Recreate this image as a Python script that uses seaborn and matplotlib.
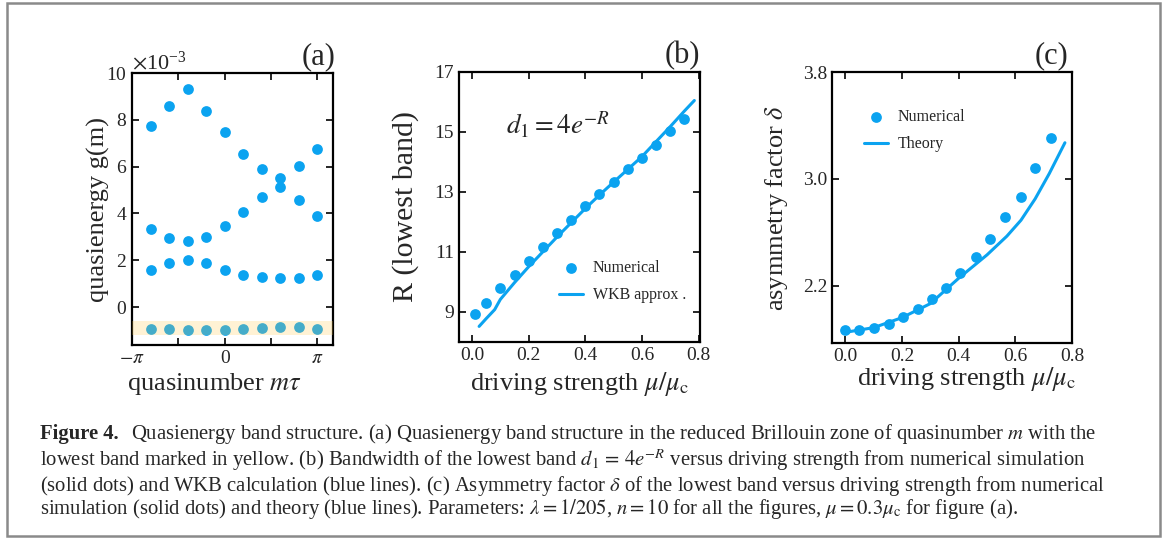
import numpy as np
import pandas as pd
import seaborn as sns
import matplotlib.pyplot as plt
from matplotlib.patches import Rectangle

# (a) quasienergy bands, in units of 1e-3, vs quasinumber m*tau (in units of pi)
m_pos = [-0.8, -0.6, -0.4, -0.2, 0.0, 0.2, 0.4, 0.6, 0.8, 1.0]
band4 = [7.72, 8.6, 9.3, 8.38, 7.48, 6.55, 5.9, 5.5, 6.03, 6.75]
band3 = [3.33, 2.97, 2.83, 3.01, 3.47, 4.07, 4.72, 5.14, 4.58, 3.9]
band2 = [1.58, 1.9, 2.03, 1.9, 1.58, 1.35, 1.27, 1.26, 1.26, 1.35]
band1 = [-0.94, -0.94, -0.98, -0.99, -0.98, -0.94, -0.89, -0.86, -0.86, -0.94]

# (b) R of the lowest band
mu_b = [0.01, 0.05, 0.10, 0.15, 0.20, 0.25, 0.30, 0.35, 0.40, 0.45, 0.50, 0.55, 0.60, 0.65, 0.70, 0.75]
R_num = [8.95, 9.30, 9.79, 10.23, 10.71, 11.16, 11.63, 12.06, 12.53, 12.92, 13.33, 13.76, 14.15, 14.58, 15.03, 15.43]
mu_wkb = [0.025, 0.05, 0.08, 0.10, 0.15, 0.20, 0.30, 0.40, 0.45, 0.50, 0.60, 0.70, 0.75, 0.785]
R_wkb = [8.52, 8.78, 9.08, 9.42, 9.98, 10.51, 11.5, 12.45, 12.9, 13.33, 14.18, 15.18, 15.7, 16.05]

# (c) asymmetry factor
mu_c = [0.0, 0.05, 0.10, 0.155, 0.205, 0.255, 0.305, 0.355, 0.405, 0.46, 0.51, 0.565, 0.62, 0.67, 0.725]
delta_num = [1.865, 1.865, 1.885, 1.913, 1.968, 2.026, 2.096, 2.181, 2.292, 2.415, 2.548, 2.711, 2.863, 3.079, 3.308]
mu_th = [0.0, 0.1, 0.2, 0.3, 0.4, 0.5, 0.57, 0.62, 0.67, 0.72, 0.775]
delta_th = [1.85, 1.885, 1.96, 2.065, 2.255, 2.43, 2.57, 2.69, 2.85, 3.04, 3.27]

sns.set_style("ticks")
plt.rcParams['font.family'] = ['Liberation Serif', 'DejaVu Serif']
plt.rcParams['mathtext.fontset'] = 'stix'

blue = "#0ba3f0"
tick_kw = dict(direction='in', top=True, right=True, length=5, width=1.4, labelsize=14)

fig = plt.figure(figsize=(11.74, 5.46), dpi=100)
W, H = 1174, 546
def box(l, r, t, b):
    return [l / W, 1 - b / H, (r - l) / W, (b - t) / H]

ax1 = fig.add_axes(box(132, 333, 73, 345))
ax2 = fig.add_axes(box(459, 700, 72, 342))
ax3 = fig.add_axes(box(832, 1072, 72, 343))

# ---- (a)
df_a = pd.DataFrame({
    'm': np.tile(np.array(m_pos) * np.pi, 4),
    'g': np.concatenate([band1, band2, band3, band4]) * 1e-3,
})
sns.scatterplot(data=df_a, x='m', y='g', ax=ax1, color=blue, s=60, linewidth=0, zorder=3)
ax1.axhspan(-1.21e-3, -0.61e-3, color='#ffcc4d', alpha=0.24, lw=0, zorder=4)
ax1.set_xlim(-np.pi, 1.17 * np.pi)
ax1.set_ylim(-1.62e-3, 10e-3)
ax1.set_xticks([-np.pi, -np.pi / 2, 0, np.pi / 2, np.pi])
ax1.set_xticklabels([r'$-\pi$', '', '0', '', r'$\pi$'])
ax1.set_yticks(np.arange(0, 11, 2) * 1e-3)
ax1.ticklabel_format(axis='y', style='sci', scilimits=(-3, -3), useMathText=True)
ax1.yaxis.get_offset_text().set_fontsize(16)
ax1.set_xlabel(r'quasinumber $m\tau$', fontsize=19)
ax1.set_ylabel('quasienergy g(m)', fontsize=19)
ax1.xaxis.set_label_coords(0.41, -0.095)
ax1.yaxis.set_label_coords(-0.11, 0.5)
ax1.text(0.93, 1.005, '(a)', transform=ax1.transAxes, ha='center', va='bottom', fontsize=22)

# ---- (b)
sns.scatterplot(x=mu_b, y=R_num, ax=ax2, color=blue, s=60, linewidth=0, label='Numerical', zorder=3)
sns.lineplot(x=mu_wkb, y=R_wkb, ax=ax2, color=blue, lw=2.2, sort=False, label='WKB approx .')
ax2.set_xlim(-0.046, 0.805)
ax2.set_ylim(8, 17)
ax2.set_xticks([0, 0.2, 0.4, 0.6, 0.8])
ax2.set_yticks([9, 11, 13, 15, 17])
ax2.xaxis.set_major_formatter(plt.FormatStrFormatter('%.1f'))
ax2.set_xlabel(r'driving strength $\mu/\mu_{\rm c}$', fontsize=19)
ax2.set_ylabel('R (lowest band)', fontsize=21.5)
ax2.xaxis.set_label_coords(0.5, -0.105)
ax2.yaxis.set_label_coords(-0.165, 0.5)
ax2.text(0.12, 15.25, r'$d_1 = 4e^{-R}$', fontsize=19.5, va='center')
ax2.text(0.925, 1.005, '(b)', transform=ax2.transAxes, ha='center', va='bottom', fontsize=22)
ax2.legend(loc='center left', bbox_to_anchor=(0.415, 0.224), frameon=False, fontsize=11.5,
           borderpad=0, borderaxespad=0, handlelength=1.5, handletextpad=0.6, labelspacing=0.7)

# ---- (c)
sns.scatterplot(x=mu_c, y=delta_num, ax=ax3, color=blue, s=60, linewidth=0, label='Numerical', zorder=3)
sns.lineplot(x=mu_th, y=delta_th, ax=ax3, color=blue, lw=2.2, sort=False, label='Theory')
ax3.set_xlim(-0.047, 0.8)
ax3.set_ylim(1.77, 3.8)
ax3.set_xticks([0, 0.2, 0.4, 0.6, 0.8])
ax3.set_yticks([2.2, 3.0, 3.8])
ax3.xaxis.set_major_formatter(plt.FormatStrFormatter('%.1f'))
ax3.set_xlabel(r'driving strength $\mu/\mu_{\rm c}$', fontsize=19)
ax3.set_ylabel(r'asymmetry factor $\delta$', fontsize=19)
ax3.xaxis.set_label_coords(0.56, -0.08)
ax3.yaxis.set_label_coords(-0.175, 0.5)
ax3.text(0.915, 1.005, '(c)', transform=ax3.transAxes, ha='center', va='bottom', fontsize=22)
ax3.legend(loc='center left', bbox_to_anchor=(0.135, 0.783), frameon=False, fontsize=11.5,
           borderpad=0, borderaxespad=0, handlelength=1.5, handletextpad=0.6, labelspacing=0.7)

for ax in (ax1, ax2, ax3):
    ax.tick_params(**tick_kw)
    for s in ax.spines.values():
        s.set_linewidth(1.6)
        s.set_color('black')

# caption
cap_lines = [
    r'Quasienergy band structure. (a) Quasienergy band structure in the reduced Brillouin zone of quasinumber $m$ with the',
    r'lowest band marked in yellow. (b) Bandwidth of the lowest band $d_1\,=\,4e^{-R}$ versus driving strength from numerical simulation',
    r'(solid dots) and WKB calculation (blue lines). (c) Asymmetry factor $\delta$ of the lowest band versus driving strength from numerical',
    r'simulation (solid dots) and theory (blue lines). Parameters: $\lambda=1/205$, $n=10$ for all the figures, $\mu=0.3\mu_{\rm c}$ for figure (a).',
]
cap_y = [434.5, 460, 485.5, 509]
cap_fs = 14.9
head = fig.text(40 / W, 1 - cap_y[0] / H, 'Figure 4.', fontsize=cap_fs, fontweight='bold', va='center')
ax1.annotate(cap_lines[0], xy=(1, 0.5), xycoords=head, xytext=(9, 0), textcoords='offset points',
             va='center', fontsize=cap_fs, annotation_clip=False)
for line, y in zip(cap_lines[1:], cap_y[1:]):
    fig.text(40 / W, 1 - y / H, line, fontsize=cap_fs, va='center')

fig.add_artist(Rectangle((7 / W, 1 - 536 / H), 1153 / W, 533 / H, transform=fig.transFigure,
                         fill=False, ec='#8a8a8a', lw=1.8))

fig.savefig('out.png', dpi=100)
